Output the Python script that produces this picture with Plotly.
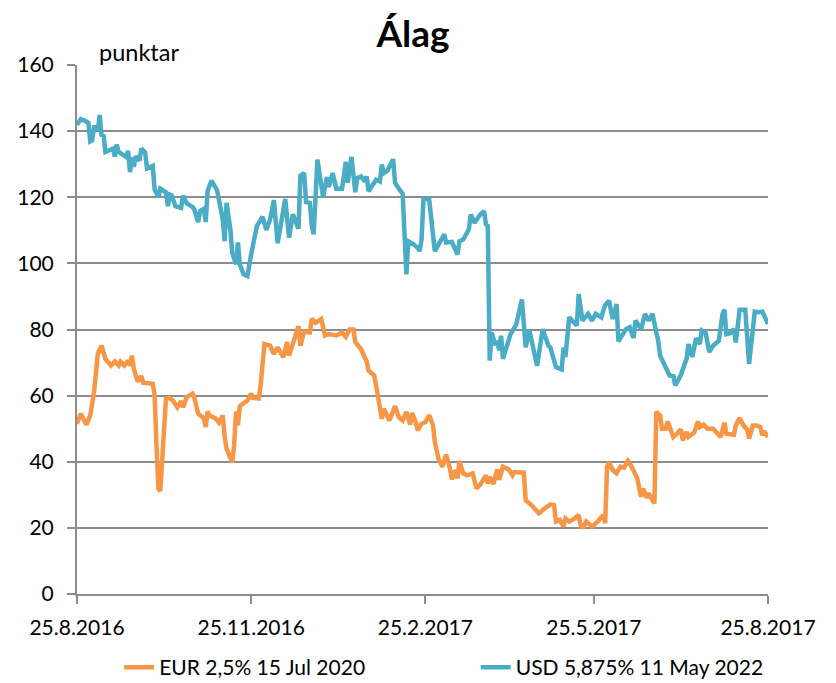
import pandas as pd
import plotly.graph_objects as go

START = "2016-08-25"

# Day offsets from 25.8.2016 and values (points)
usd_days = [0, 2, 4, 6, 7, 8, 9, 10, 11, 12, 13, 14, 15, 18, 19, 20, 21, 22, 24, 26,
            27, 28, 29, 30, 31, 33, 34, 36, 37, 40, 41, 43, 44, 47, 48, 49, 50, 52, 55, 56,
            58, 61, 62, 64, 65, 67, 68, 69, 71, 74, 77, 78, 79, 81, 82, 84, 85, 86, 88, 90,
            92, 95, 98, 100, 102, 104, 106, 110, 112, 114, 117, 118, 120, 121, 123, 124, 125, 127, 130, 132,
            133, 135, 137, 140, 142, 143, 145, 147, 148, 150, 152, 153, 154, 158, 160, 161, 162, 164, 167, 168,
            170, 172, 174, 175, 178, 180, 181, 182, 183, 186, 189, 194, 195, 198, 201, 202, 204, 207, 208, 210,
            213, 215, 216, 217, 218, 219, 221, 222, 223, 224, 225, 229, 232, 235, 237, 239, 243, 246, 249, 250,
            253, 256, 257, 258, 260, 264, 265, 267, 270, 272, 274, 277, 278, 279, 281, 282, 283, 285, 286, 290,
            292, 294, 295, 298, 300, 302, 304, 306, 307, 308, 311, 313, 315, 316, 318, 319, 321, 322, 323, 325,
            327, 329, 330, 332, 334, 336, 339, 341, 342, 343, 345, 347, 348, 350, 353, 355, 358, 360, 362, 365]
usd_vals = [141.9, 143.6, 143.2, 142.5, 136.9, 137.2, 141.2, 141.2, 140.2, 144.9, 138.4, 138.9, 133.7, 134.3, 134.7, 132.3, 135.9, 133.7, 133.0, 132.2,
            134.0, 127.6, 132.0, 129.2, 132.4, 131.1, 134.7, 133.5, 128.7, 129.5, 122.3, 120.1, 122.6, 121.5, 117.3, 120.8, 120.6, 117.3, 116.8, 120.5,
            118.1, 117.1, 116.3, 112.5, 115.8, 116.5, 112.5, 122.0, 125.0, 122.1, 113.3, 106.7, 118.3, 110.3, 103.2, 99.7, 106.3, 99.7, 96.7, 96.2,
            102.7, 111.3, 114.1, 110.1, 113.3, 119.1, 106.1, 119.5, 107.8, 114.8, 110.5, 126.5, 127.3, 118.5, 118.3, 111.5, 108.8, 131.4, 119.9, 126.1,
            123.1, 127.3, 122.6, 122.6, 130.7, 124.4, 132.2, 121.5, 125.8, 126.3, 124.8, 126.3, 121.8, 125.3, 124.8, 129.9, 127.3, 128.1, 131.5, 124.4,
            122.6, 121.1, 96.7, 106.7, 105.7, 104.7, 103.7, 107.2, 119.3, 119.5, 103.7, 108.8, 106.3, 106.5, 102.7, 106.7, 107.2, 110.3, 114.8, 112.3,
            114.8, 115.8, 111.8, 111.3, 70.6, 79.1, 75.3, 76.5, 73.7, 78.1, 71.1, 78.6, 81.5, 89.1, 74.6, 79.7, 69.0, 80.1, 75.1, 74.6,
            68.6, 67.9, 74.6, 71.7, 83.7, 81.2, 90.7, 82.7, 84.7, 82.7, 84.7, 83.7, 85.7, 87.4, 88.7, 85.2, 83.2, 87.7, 76.4, 80.1,
            80.7, 77.4, 82.7, 80.1, 84.7, 82.7, 84.7, 79.1, 76.6, 72.1, 68.6, 66.1, 65.9, 63.1, 65.1, 66.3, 69.6, 71.1, 75.6, 71.7,
            77.4, 75.6, 79.7, 79.1, 73.2, 75.1, 76.6, 84.7, 86.0, 78.6, 78.9, 80.1, 76.1, 86.0, 86.0, 69.6, 85.4, 85.2, 85.4, 81.7]

eur_days = [0, 2, 5, 7, 9, 11, 13, 15, 18, 20, 22, 23, 25, 27, 28, 29, 30, 32, 34, 35,
            40, 41, 42, 43, 44, 47, 49, 51, 53, 55, 56, 58, 61, 62, 64, 67, 68, 69, 70, 73,
            75, 77, 78, 79, 82, 83, 84, 85, 86, 88, 90, 92, 93, 96, 97, 99, 102, 104, 106, 109,
            111, 112, 114, 117, 118, 120, 123, 124, 126, 129, 131, 133, 137, 140, 142, 144, 146, 147, 150, 152,
            153, 154, 157, 158, 160, 161, 162, 164, 165, 168, 170, 172, 174, 176, 177, 179, 180, 182, 184, 186,
            188, 189, 191, 193, 195, 197, 198, 200, 201, 202, 204, 206, 209, 211, 213, 216, 217, 218, 220, 222,
            223, 225, 228, 230, 231, 236, 237, 240, 244, 246, 250, 252, 253, 255, 257, 258, 260, 263, 265, 266,
            267, 269, 272, 275, 278, 279, 280, 281, 283, 285, 287, 289, 291, 293, 294, 296, 297, 298, 299, 301,
            302, 303, 305, 306, 308, 309, 311, 312, 315, 317, 319, 320, 322, 323, 326, 328, 329, 331, 333, 336,
            338, 340, 342, 343, 347, 348, 350, 352, 354, 355, 357, 359, 361, 362, 363, 365]
eur_vals = [51.5, 54.5, 51.2, 54.0, 61.1, 72.6, 75.1, 71.1, 69.1, 70.3, 69.1, 70.3, 69.1, 70.6, 69.1, 72.1, 68.1, 64.3, 65.9, 63.9,
            63.6, 60.1, 45.0, 31.8, 31.2, 59.1, 59.3, 58.3, 56.5, 58.3, 56.5, 59.6, 60.6, 59.3, 54.5, 53.2, 50.5, 55.2, 54.0, 53.2,
            51.8, 54.0, 47.5, 44.0, 39.8, 45.0, 55.2, 51.0, 56.8, 57.5, 58.5, 60.6, 59.3, 59.1, 63.1, 75.6, 75.1, 72.6, 74.6, 71.6,
            76.2, 72.1, 75.3, 81.0, 75.1, 79.4, 79.1, 83.2, 82.0, 83.2, 78.2, 78.6, 78.2, 79.1, 77.8, 80.0, 80.0, 76.2, 74.1, 71.6,
            70.3, 67.6, 66.1, 63.1, 57.1, 53.0, 56.0, 53.5, 52.5, 56.8, 53.5, 52.5, 55.1, 51.2, 54.8, 51.8, 49.5, 51.5, 52.0, 54.0,
            51.2, 46.0, 40.8, 38.5, 42.2, 37.9, 34.7, 37.5, 34.9, 40.2, 36.5, 35.9, 36.5, 31.9, 33.1, 35.9, 33.4, 35.4, 33.3, 37.7,
            34.5, 38.5, 37.7, 35.9, 36.9, 36.7, 28.4, 26.9, 24.4, 25.4, 27.1, 26.9, 21.9, 22.4, 20.4, 22.9, 21.9, 22.9, 23.9, 20.9,
            19.9, 21.9, 20.4, 21.9, 23.9, 21.4, 38.5, 39.8, 37.5, 36.5, 38.5, 38.2, 40.2, 38.5, 37.5, 34.9, 31.9, 29.4, 31.9, 29.1,
            30.4, 29.4, 27.4, 55.1, 54.0, 50.0, 50.0, 52.2, 47.5, 48.5, 49.8, 46.5, 49.0, 47.5, 48.8, 52.2, 50.5, 51.2, 50.0, 50.0,
            48.8, 47.5, 51.8, 48.5, 48.2, 51.0, 53.2, 51.0, 49.8, 47.0, 51.0, 51.0, 50.5, 48.0, 49.2, 47.5]

tick_dates = ["2016-08-25", "2016-11-25", "2017-02-25", "2017-05-25", "2017-08-25"]
tick_labels = ["25.8.2016", "25.11.2016", "25.2.2017", "25.5.2017", "25.8.2017"]
y_ticks = [0, 20, 40, 60, 80, 100, 120, 140, 160]

series_names = ["EUR 2,5% 15 Jul 2020", "USD 5,875% 11 May 2022"]
title_text = "Álag"
unit_text = "punktar"

start = pd.Timestamp(START)
usd_x = start + pd.to_timedelta(usd_days, unit="D")
eur_x = start + pd.to_timedelta(eur_days, unit="D")

FONT = "Lato"
GRID = "#8c8c8c"

fig = go.Figure()
fig.add_trace(go.Scatter(x=eur_x, y=eur_vals, mode="lines", name=series_names[0],
                         line=dict(color="#F79646", width=4.5), legend="legend"))
fig.add_trace(go.Scatter(x=usd_x, y=usd_vals, mode="lines", name=series_names[1],
                         line=dict(color="#4BACC6", width=4.5), legend="legend2"))

legend_common = dict(orientation="h", xanchor="left", y=-0.139, yanchor="middle",
                     font=dict(family=FONT, size=21, color="black"),
                     bgcolor="rgba(0,0,0,0)")

# the page body adds an 8px offset, so the figure geometry is shifted to compensate
fig.update_layout(
    width=836, height=683,
    paper_bgcolor="white", plot_bgcolor="white",
    margin=dict(l=69, r=76, t=57, b=97, autoexpand=False),
    font=dict(family=FONT, size=21, color="black"),
    title=dict(text="<b>" + title_text + "</b>", x=0.4845, xref="container", xanchor="center",
               y=0.962, yref="container", yanchor="middle",
               font=dict(family=FONT, size=37, color="black")),
    xaxis=dict(type="date", range=[tick_dates[0], tick_dates[-1]],
               tickvals=tick_dates, ticktext=tick_labels, automargin=False,
               showgrid=False, zeroline=False,
               showline=True, linecolor=GRID, linewidth=2,
               ticks="outside", ticklen=8, tickcolor=GRID, tickwidth=2,
               ticklabelstandoff=6,
               tickfont=dict(family=FONT, size=21, color="black")),
    yaxis=dict(range=[0, 160], tickvals=y_ticks, automargin=False,
               showgrid=True, gridcolor=GRID, gridwidth=2,
               zeroline=False, showline=True, linecolor=GRID, linewidth=2,
               ticks="outside", ticklen=8, tickcolor=GRID, tickwidth=2,
               ticklabelstandoff=9,
               tickfont=dict(family=FONT, size=21, color="black")),
    showlegend=True,
    legend=dict(x=0.061, **legend_common),
    legend2=dict(x=0.577, **legend_common),
    annotations=[dict(text=unit_text, xref="paper", yref="paper", x=0.029, y=1.024,
                      xanchor="left", yanchor="middle", showarrow=False,
                      font=dict(family=FONT, size=23.5, color="black"))],
)

fig.write_html("out.html")
